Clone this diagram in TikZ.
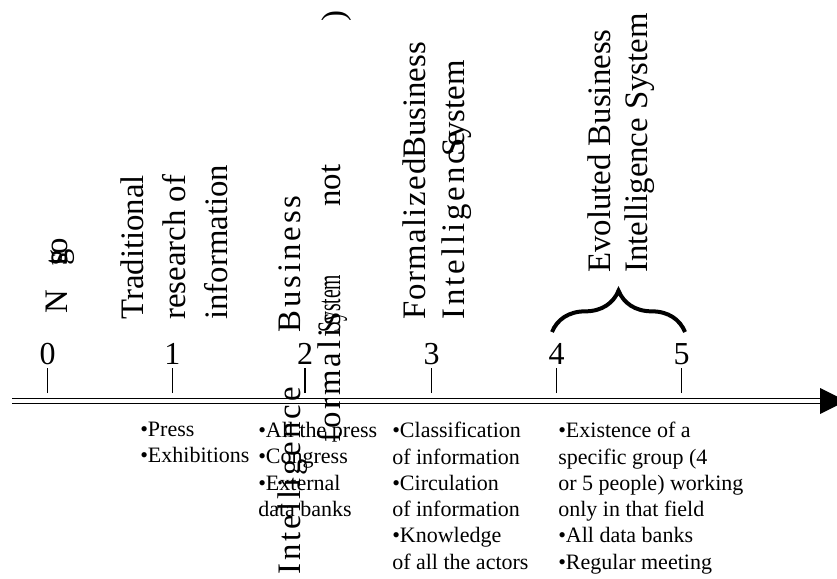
\documentclass[tikz,border=0pt]{standalone}
\usepackage{fontspec}
\setmainfont{Liberation Serif}
\usetikzlibrary{decorations.pathreplacing}

\begin{document}
\begin{tikzpicture}[x=0.75pt, y=-0.75pt,
  tick/.style={line width=0.9pt},
  ticknum/.style={anchor=base, inner sep=0pt, font=\fontsize{24}{28}\selectfont},
  stage/.style={rotate=90, anchor=base west, inner sep=0pt, font=\fontsize{24.6}{29}\selectfont},
  spaced/.style={font={\fontsize{24.6}{29}\selectfont\addfontfeatures{LetterSpace=#1}}},
  facts/.style={anchor=north west, align=left, inner sep=0pt, font=\fontsize{16.5}{19.7}\selectfont}]

\useasboundingbox (0,0) rectangle (837,578);

% time axis
\coordinate (axisstart) at (12,401);
\coordinate (axisend) at (822,401);
\draw[double, line width=1.4pt, double distance=2.4pt] (axisstart) -- (axisend);
\fill (820,388) -- (846,401) -- (820,414) -- cycle;

% ticks and numbers
\foreach \n/\x in {0/47.5, 1/172.3, 2/305, 3/431.7, 4/556.7, 5/681.7} {
  \coordinate (tick\n) at (\x,393);
  \draw[tick] (tick\n) -- ++(0,-25);
  \node (num\n) [ticknum] at (\x,364) {\n};
}

% stages above the axis
\node (none1) [stage] at (67,314) {N};
\node (none2) [stage] at (67,266) {\rlap{t}\rlap{s}g\kern-4pt o};

\node (trad1) [stage] at (143,320) {Traditional};
\node (trad2) [stage] at (185,320) {research of};
\node (trad3) [stage] at (227,320) {information};

\node (bis1) [stage, spaced=9] at (300,333) {Business};
\node (bis2) [stage, spaced=9] at (300,575) {Intelligence};
\node (bis3) [stage, spaced=9] at (340,443) {formalis};
\node (bis4) [stage] at (340,333) {\scalebox{0.6}[1]{System}};
\node (bis5) [stage] at (340,207) {not};
\node (bis6) [stage] at (344,22) {)};

\node (fbis1) [stage, spaced=4] at (425,320) {Formalized};
\node (fbis2) [stage] at (425,159) {Business};
\node (fbis3) [stage, spaced=9] at (464,320) {Intelligence};
\node (fbis4) [stage] at (464,157) {System};

\node (ebis1) [stage] at (610,273) {Evoluted Business};
\node (ebis2) [stage] at (647,273) {Intelligence System};
\draw[decorate, decoration={brace, amplitude=31pt}, line width=3pt] (552,332) -- (685,332);

% facts below the axis
\node (facts1) [facts] at (140,422) {•Press\\•Exhibitions};
\node (facts2) [facts] at (258,422) {•All the press\\•Congress\\•External\\data banks};
\node (facts3) [facts] at (392,422) {•Classification\\of information\\•Circulation\\of information\\•Knowledge\\of all the actors};
\node (facts4) [facts] at (558,422) {•Existence of a\\specific group (4\\or 5 people) working\\only in that field\\•All data banks\\•Regular meeting};
\end{tikzpicture}
\end{document}
